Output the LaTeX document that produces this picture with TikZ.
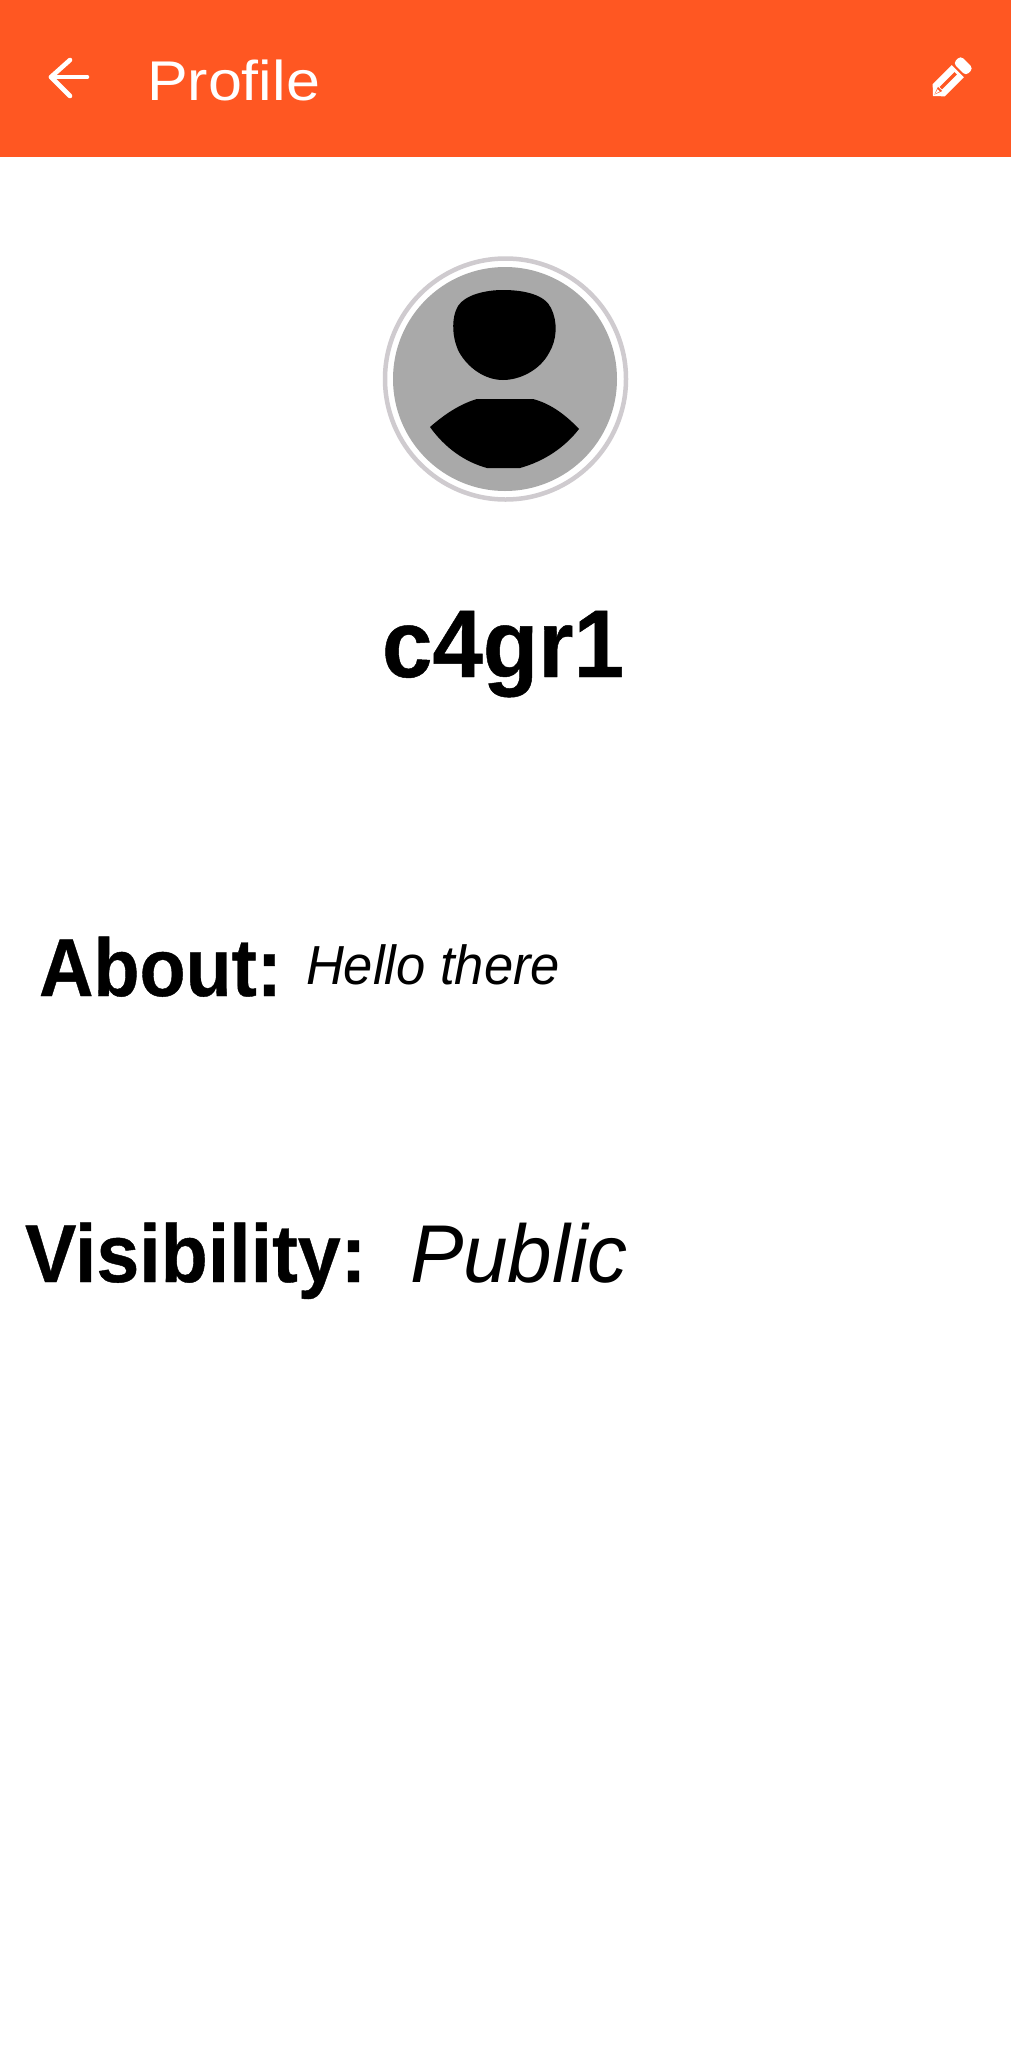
\documentclass[tikz,border=0pt]{standalone}
\usepackage{fontspec}
\setmainfont{Liberation Sans}
\newfontfamily\heavyfont[FakeBold=0.5]{Liberation Sans Bold}
\definecolor{barorange}{HTML}{FF5722}
\definecolor{ringgray}{HTML}{CFCBCF}
\definecolor{discgray}{HTML}{A9A9A9}
\tikzset{
  txt/.style={anchor=base west,inner sep=0pt,outer sep=0pt,text=black,transform shape},
  iconline/.style={draw=white,line width=4.6pt,line cap=round,line join=round},
}
\newcommand{\fs}[1]{\fontsize{#1}{#1}\selectfont}
\begin{document}
\begin{tikzpicture}[x=1pt,y=-1pt]
\useasboundingbox (0,0) rectangle (1011,2048);
\fill[white] (0,0) rectangle (1011,2048);
\fill[barorange] (0,0) rectangle (1011,157);
% back arrow
\coordinate (arrowtail) at (87,77);
\coordinate (arrowtip) at (51,77);
\coordinate (arrowup) at (70,60);
\coordinate (arrowdown) at (70,96);
\draw[iconline] (arrowtail) -- (arrowtip);
\draw[iconline] (arrowup) -- (arrowtip) -- (arrowdown);
\node[txt,text=white,font=\fs{56},xscale=1.09] (title) at (147,100) {Profile};
% pencil
\begin{scope}[shift={(933pt,-96pt)},rotate=45]
  \fill[white,line join=round] (0,0) -- (8,-8.5) -- (35,-8.5) -- (35,8.5) -- (8,8.5) -- cycle;
  \draw[barorange,line width=3.5pt] (11,0) -- (32,0);
  \fill[barorange] (2,0) -- (10,-3) -- (10,3) -- cycle;
  \fill[white] (3,0) -- (8,-1.5) -- (8,1.5) -- cycle;
  \fill[white,rounded corners=4pt] (37.5,-9) rectangle (48,9);
\end{scope}
% avatar
\draw[ringgray,line width=4.5pt] (505.5,379) circle[radius=120.5];
\fill[discgray] (505,379) circle[radius=112];
\fill[black] (503,290) .. controls (525,290) and (545,295) .. (551,308)
  .. controls (558,322) and (557,340) .. (549,353)
  .. controls (540,370) and (520,380) .. (503,380)
  .. controls (485,380) and (468,368) .. (459,352)
  .. controls (452,338) and (451,318) .. (458,306)
  .. controls (465,295) and (485,290) .. (503,290) -- cycle;
\fill[black] (430,427) .. controls (445,414) and (460,404) .. (477,399) -- (533,399) .. controls (548,403) and (563,412) .. (579,429)
  .. controls (565,447) and (545,461) .. (520,468) -- (487,468) .. controls (465,462) and (445,448) .. (430,427) -- cycle;
\node[txt,font=\heavyfont\fs{96},xscale=0.945] (name) at (382,677) {c4gr1};
\node[txt,font=\heavyfont\fs{82},xscale=0.92] (aboutlabel) at (39,996) {About:};
\node[txt,font=\itshape\fs{55},xscale=0.955] (aboutvalue) at (306,984) {Hello there};
\node[txt,font=\heavyfont\fs{82},xscale=0.94] (vislabel) at (25,1282) {Visibility:};
\node[txt,font=\itshape\fs{82},xscale=0.976] (visvalue) at (410,1282) {Public};
\end{tikzpicture}
\end{document}
